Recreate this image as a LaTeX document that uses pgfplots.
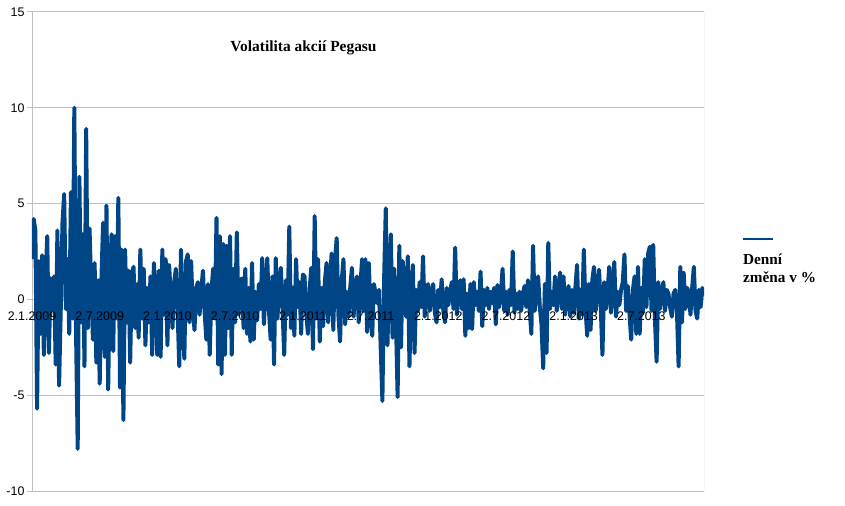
\documentclass[border=0pt]{standalone}
\usepackage{fontspec}
\setmainfont{Liberation Serif}
\newfontfamily\arial{Liberation Sans}
\usepackage{pgfplots}
\usepackage{pgfplotstable}
\pgfplotsset{compat=1.18}

\definecolor{serie}{HTML}{004586}
\definecolor{mriz}{HTML}{C0C0C0}

\pgfplotsset{
    spolecne/.style={
        at={(32bp,15bp)}, anchor=south west,
        scale only axis, width=672bp, height=479bp,
        xmin=0, xmax=397,
        ymin=-10, ymax=15,
        ticklabel style={font=\arial\fontsize{12.5}{14}\selectfont, text=black},
    },
}

% denni zmena v %, jeden radek = 10 bodu
\pgfplotstableread{
y
2.1
4.2
3.6
-5.7
2.0
-1.8
2.3
-2.9
1.0
3.3
-2.8
1.1
-0.5
1.2
-3.4
3.6
-4.5
-0.5
4.0
5.5
-0.5
2.1
-1.8
5.6
-1.0
10.0
-1.6
-7.8
6.4
-1.2
3.4
-3.5
8.9
-1.5
3.7
0.5
-2.1
1.9
-3.3
1.0
-4.4
1.0
4.0
-3.0
4.9
-4.7
1.0
3.4
-2.7
3.3
-1.0
5.3
-4.6
2.6
-6.3
2.6
-1.2
1.5
-3.3
1.4
1.7
-1.5
0.8
-2.0
2.6
-1.0
1.6
-2.4
0.6
-1.2
1.2
-2.9
1.9
0.3
-2.9
1.5
-3.0
2.6
-0.8
2.1
-2.4
1.8
0.2
-1.5
0.9
1.6
-0.6
-3.5
2.6
-1.0
-3.1
2.0
2.35
-1.2
2.0
-0.5
-1.6
0.6
0.9
-0.8
0.5
1.5
-0.7
-2.1
0.8
-2.9
0.4
1.6
-1.0
4.25
-3.4
3.3
-3.9
2.9
-2.9
2.8
-1.5
3.3
-2.9
1.6
-1.2
3.5
-0.8
0.9
1.1
-1.5
1.6
-1.8
0.6
-2.2
1.9
-2.1
0.4
-1.1
0.8
-0.5
2.15
-1.3
0.6
2.15
-0.6
-2.1
1.2
-3.4
2.15
-1.0
0.7
1.65
-0.5
-2.9
1.0
-0.8
3.8
-1.5
0.6
-1.9
2.1
-0.4
0.9
-1.8
1.3
1.2
-0.7
-1.8
0.5
1.65
-2.6
4.35
-1.0
2.1
-2.2
0.6
-1.4
0.9
1.9
-1.2
0.8
2.4
-1.6
2.0
3.2
-0.8
-2.2
1.0
2.1
-1.3
0.4
-0.9
0.6
1.65
-0.9
0.5
1.2
-1.2
0.7
2.1
-0.6
2.1
-1.7
1.9
-0.8
-1.9
0.8
0.3
-0.2
0.5
-2.5
-5.3
1.0
4.75
-2.4
1.2
3.4
-2.0
1.6
-1.0
-5.1
2.8
-2.5
2.0
0.8
-0.9
2.25
-3.5
0.6
1.8
-2.8
0.5
-0.6
0.9
-0.4
2.25
-0.9
0.4
0.8
-0.6
0.3
0.8
-0.7
-1.2
0.5
-0.4
1.05
-0.6
-1.2
0.6
-0.3
0.4
0.9
-0.5
2.7
-0.8
0.4
1.0
-0.5
1.05
-1.9
0.3
-1.5
0.8
-1.55
0.9
-0.3
0.4
-0.6
1.45
-1.4
0.5
-0.3
0.6
-0.5
0.4
-0.2
0.6
-1.3
0.75
-0.4
0.3
1.6
-0.6
0.4
-0.8
0.5
-0.3
2.5
-0.7
0.3
-0.5
0.4
-0.6
0.3
0.7
-0.4
1.0
-0.5
-1.8
2.8
-0.6
0.5
1.2
-0.4
-1.3
-3.6
0.8
-2.8
2.95
-0.5
0.4
-0.3
1.2
-0.6
0.5
1.4
-0.5
1.2
-0.8
0.3
0.7
-0.9
0.5
-0.7
0.6
1.8
-1.0
0.5
-0.8
2.6
-0.5
-1.9
0.8
-1.6
1.0
1.7
-0.6
0.5
1.55
-0.4
-2.9
0.9
-0.5
0.4
1.7
-0.7
0.6
1.95
-0.9
0.4
-0.3
0.5
0.9
2.35
-0.6
0.7
-0.8
-2.1
0.5
1.2
-1.8
1.7
-1.8
0.6
-0.7
2.1
-0.4
2.4
2.75
-0.6
2.85
-1.0
-3.25
0.9
-0.5
0.4
0.9
-0.6
0.5
0.3
-0.4
-0.9
0.3
0.5
-0.6
-3.5
1.7
-1.2
1.4
-0.5
0.6
0.4
-0.8
0.6
1.7
-0.6
-1.0
0.5
-0.4
0.6
0.2
}\zmena

\begin{document}
\begin{tikzpicture}
\path (0,0) rectangle (845bp,506bp);
% mrizka, osa y a data
\begin{axis}[
    spolecne,
    axis x line*=middle,
    axis y line*=left,
    x axis line style={draw=none},
    y axis line style={draw=mriz, line width=1pt},
    xtick=\empty,
    ytick={-10,-5,0,5,10,15},
    yticklabels={-10,-5,0,5,10,15},
    ytick style={draw=mriz, line width=1pt},
    tick align=outside,
    major tick length=5bp,
    ymajorgrids,
    grid style={draw=mriz, line width=1pt},
    yticklabel style={xshift=1bp},
]
\addplot[serie, line width=4pt, line join=round] table[x expr=\coordindex, y=y] {\zmena};
\draw[mriz, line width=1pt] (rel axis cs:1,0) -- (rel axis cs:1,1);
\end{axis}
% popisky data navrch pres krivku
\begin{axis}[
    spolecne,
    axis x line*=middle,
    axis y line=none,
    x axis line style={draw=none},
    ytick=\empty,
    xtick={0,40,80,120,160,200,240,280,320,360},
    xticklabels={2.1.2009,2.7.2009,2.1.2010,2.7.2010,2.1.2011,2.7.2011,2.1.2012,2.7.2012,2.1.2013,2.7.2013},
    xtick style={draw=none},
    xticklabel style={yshift=-9bp},
]
\end{axis}
\node[anchor=base, font=\bfseries\fontsize{15.5}{18}\selectfont] at (303.5bp,454bp) {Volatilita akcií Pegasu};
\draw[serie, line width=1.6pt] (743bp,267bp) -- (773bp,267bp);
\node[anchor=base west, inner sep=0pt, font=\bfseries\fontsize{15.3}{18}\selectfont] at (743bp,241bp) {Denní};
\node[anchor=base west, inner sep=0pt, font=\bfseries\fontsize{15.3}{18}\selectfont] at (743bp,223bp) {změna v \%};
\end{tikzpicture}
\end{document}
